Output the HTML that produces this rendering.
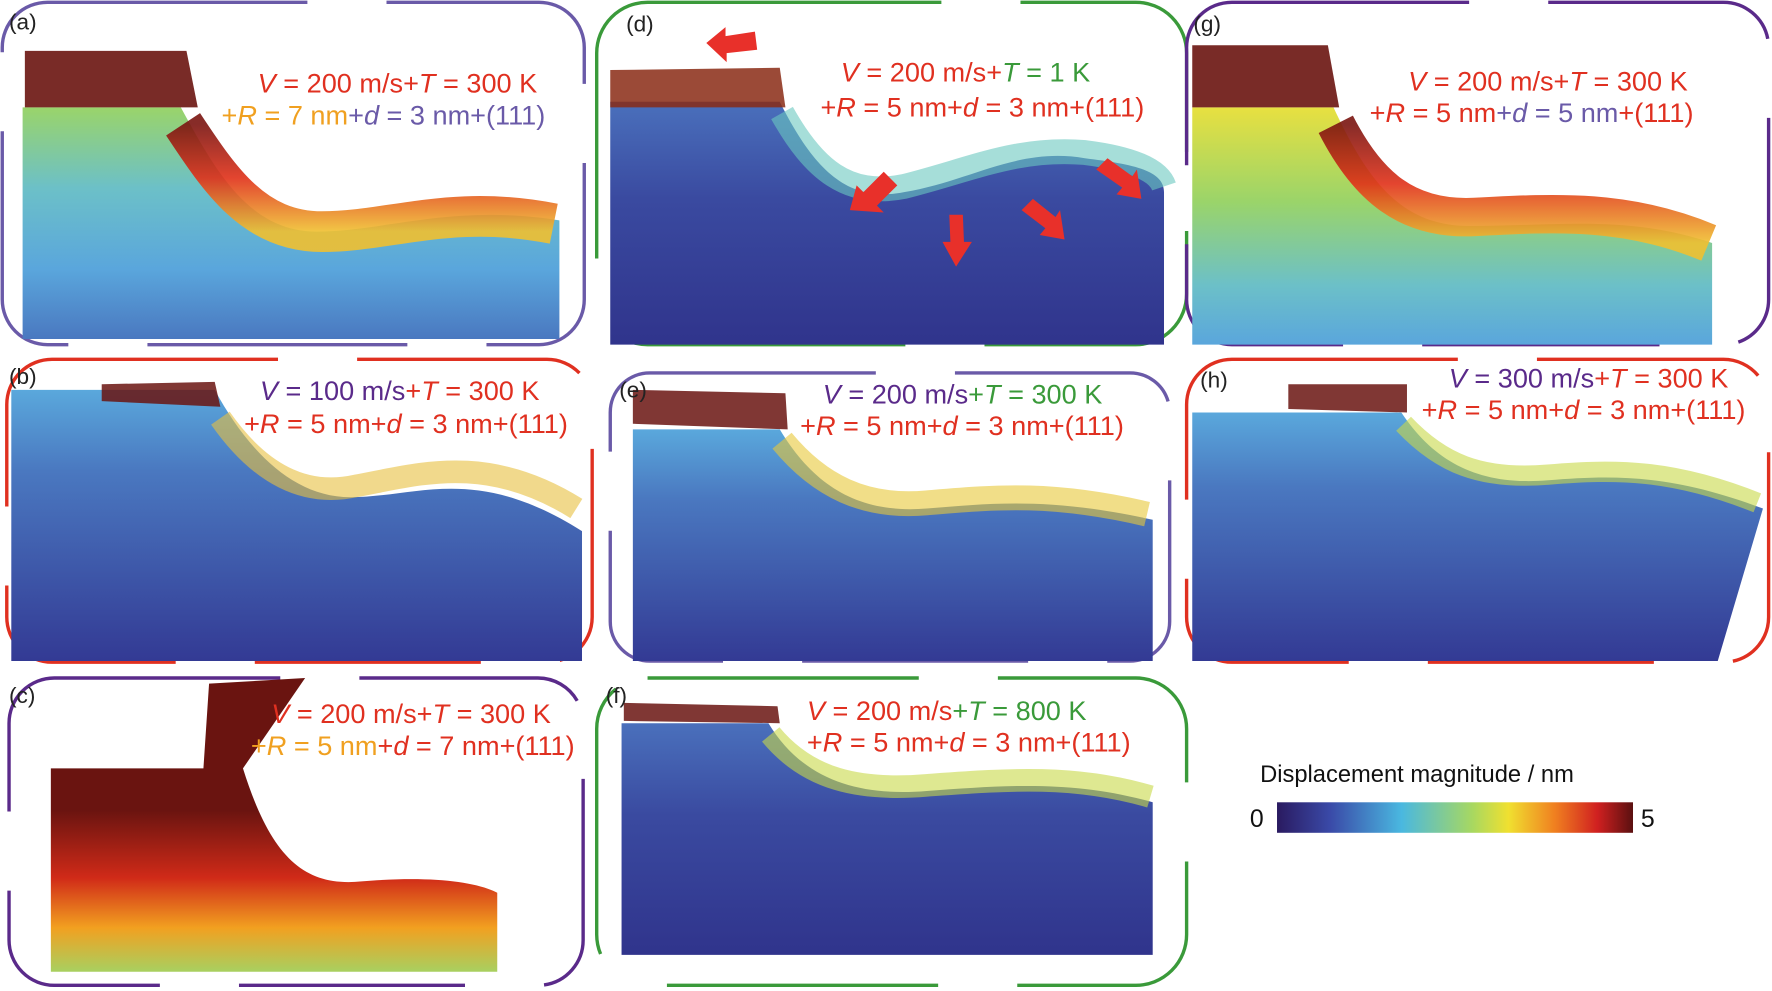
<!DOCTYPE html>
<html><head><meta charset="utf-8"><style>
html,body{margin:0;padding:0;background:#fff;}
svg{display:block;}
text{font-family:"Liberation Sans",sans-serif;}
</style></head><body>
<svg width="1772" height="991" viewBox="0 0 1568 877" preserveAspectRatio="none" xmlns="http://www.w3.org/2000/svg">
<defs>
<linearGradient id="gA" x1="0" y1="0" x2="0" y2="1"><stop offset="0" stop-color="#9ad46a"/><stop offset="0.35" stop-color="#6cc0c8"/><stop offset="0.7" stop-color="#5aa6dc"/><stop offset="1" stop-color="#4a78c0"/></linearGradient>
<linearGradient id="gB" x1="0" y1="0" x2="0" y2="1"><stop offset="0" stop-color="#5aa8dc"/><stop offset="0.3" stop-color="#4a78c0"/><stop offset="1" stop-color="#333a94"/></linearGradient>
<linearGradient id="gC" x1="0" y1="0" x2="0" y2="1"><stop offset="0" stop-color="#6a1410"/><stop offset="0.45" stop-color="#6a1410"/><stop offset="0.68" stop-color="#d02a18"/><stop offset="0.85" stop-color="#f2a020"/><stop offset="1" stop-color="#a8d060"/></linearGradient>
<linearGradient id="gD" x1="0" y1="0" x2="0" y2="1"><stop offset="0" stop-color="#4a70bc"/><stop offset="0.4" stop-color="#3a4aa0"/><stop offset="1" stop-color="#30348c"/></linearGradient>
<linearGradient id="gG" x1="0" y1="0" x2="0" y2="1"><stop offset="0" stop-color="#e8e040"/><stop offset="0.4" stop-color="#9ad46a"/><stop offset="0.75" stop-color="#6cc0c8"/><stop offset="1" stop-color="#5aa6dc"/></linearGradient>
<linearGradient id="cb" x1="0" y1="0" x2="1" y2="0"><stop offset="0" stop-color="#2a1a60"/><stop offset="0.15" stop-color="#3a4aa8"/><stop offset="0.35" stop-color="#4ab8e0"/><stop offset="0.55" stop-color="#a8d860"/><stop offset="0.65" stop-color="#f0e030"/><stop offset="0.78" stop-color="#f08020"/><stop offset="0.9" stop-color="#d02020"/><stop offset="1" stop-color="#5a1010"/></linearGradient>
<linearGradient id="band" x1="0" y1="0" x2="0" y2="1"><stop offset="0" stop-color="#7a1410"/><stop offset="0.5" stop-color="#e03018"/><stop offset="1" stop-color="#f0c030"/></linearGradient>
</defs>

<g fill="none" stroke-width="3">
<rect x="2" y="2" width="515" height="303" rx="40" stroke="#6a5aa8" stroke-dasharray="230,70"/>
<rect x="528" y="2" width="522" height="303" rx="45" stroke="#3a9a3a" stroke-dasharray="260,70"/>
<rect x="1050" y="2" width="515" height="303" rx="40" stroke="#5a2a8a" stroke-dasharray="210,70"/>
<rect x="6" y="318" width="518" height="268" rx="40" stroke="#e03020" stroke-dasharray="200,70"/>
<rect x="540" y="330" width="495" height="255" rx="35" stroke="#6a5aa8" stroke-dasharray="200,70"/>
<rect x="1050" y="318" width="515" height="268" rx="40" stroke="#e03020" stroke-dasharray="200,70"/>
<rect x="8" y="600" width="508" height="272" rx="40" stroke="#5a2a8a" stroke-dasharray="200,70"/>
<rect x="528" y="600" width="522" height="272" rx="45" stroke="#3a9a3a" stroke-dasharray="240,70"/>
</g>

<!-- (a) -->
<path d="M20,95 L160,95 C190,150 220,205 280,205 C340,205 400,180 495,195 L495,300 L20,300 Z" fill="url(#gA)"/>
<path d="M162,110 C195,160 225,205 285,205 C345,205 400,180 490,198" fill="none" stroke="url(#band)" stroke-width="36" opacity="0.9"/>
<path d="M22,45 L165,45 L175,95 L22,95 Z" fill="#6a1410" opacity="0.9"/>
<!-- (b) -->
<path d="M10,345 L190,345 C220,400 260,440 310,440 C370,440 420,410 515,470 L515,585 L10,585 Z" fill="url(#gB)"/>
<path d="M195,370 C230,420 270,440 315,430 C370,420 430,400 510,450" fill="none" stroke="#e8c040" stroke-width="20" opacity="0.6"/>
<path d="M90,340 L190,338 L195,360 L90,355 Z" fill="#6a1410" opacity="0.85"/>
<!-- (c) -->
<path d="M45,680 L180,680 L185,605 L270,600 L215,680 C240,760 270,785 320,780 C380,775 420,780 440,790 L440,860 L45,860 Z" fill="url(#gC)"/>
<!-- (d) -->
<path d="M540,90 L690,90 C720,150 750,180 800,170 C860,160 900,130 960,140 C1000,145 1030,150 1030,170 L1030,305 L540,305 Z" fill="url(#gD)"/>
<path d="M692,100 C720,150 750,175 800,165 C860,150 900,130 960,135 C1000,140 1025,150 1030,165" fill="none" stroke="#6ac8c0" stroke-width="22" opacity="0.6"/>
<path d="M540,62 L690,60 L695,95 L540,95 Z" fill="#8a2a14" opacity="0.85"/>
<!-- (e) -->
<path d="M560,380 L690,380 C720,430 760,455 820,450 C880,445 930,440 1020,460 L1020,585 L560,585 Z" fill="url(#gB)"/>
<path d="M692,390 C725,430 765,450 820,445 C880,440 930,435 1015,455" fill="none" stroke="#e8c838" stroke-width="22" opacity="0.6"/>
<path d="M560,345 L695,348 L697,380 L560,375 Z" fill="#6a1410" opacity="0.85"/>
<!-- (f) -->
<path d="M550,640 L680,640 C710,690 760,705 820,700 C890,695 950,690 1020,710 L1020,845 L550,845 Z" fill="url(#gD)"/>
<path d="M682,650 C715,690 760,700 820,695 C890,690 950,685 1018,705" fill="none" stroke="#c8d848" stroke-width="20" opacity="0.6"/>
<path d="M552,622 L688,625 L690,640 L552,638 Z" fill="#6a1410" opacity="0.85"/>
<!-- (g) -->
<path d="M1055,95 L1180,95 C1210,160 1240,200 1300,200 C1380,200 1440,190 1515,215 L1515,305 L1055,305 Z" fill="url(#gG)"/>
<path d="M1182,110 C1210,165 1245,195 1305,192 C1380,188 1440,185 1512,215" fill="none" stroke="url(#band)" stroke-width="34" opacity="0.9"/>
<path d="M1055,40 L1175,40 L1185,95 L1055,95 Z" fill="#6a1410" opacity="0.9"/>
<!-- (h) -->
<path d="M1055,365 L1240,365 C1270,410 1310,430 1370,425 C1430,420 1480,420 1560,450 L1520,585 L1055,585 Z" fill="url(#gB)"/>
<path d="M1242,375 C1275,410 1310,425 1370,420 C1430,415 1480,415 1555,445" fill="none" stroke="#c8d848" stroke-width="18" opacity="0.6"/>
<path d="M1140,340 L1245,340 L1245,365 L1140,362 Z" fill="#6a1410" opacity="0.85"/>

<g fill="#e8302a">
<path d="M625,38 L642,24 L642,32 L668,28 L670,44 L643,47 L643,55 Z"/>
<path d="M752,186 L758,164 L764,170 L782,152 L794,164 L776,182 L782,188 Z"/>
<path d="M846,236 L834,214 L841,214 L840,190 L852,190 L853,214 L860,214 Z"/>
<path d="M942,212 L920,208 L925,202 L904,186 L914,176 L934,192 L938,186 Z"/>
<path d="M1010,176 L988,172 L993,166 L970,150 L980,140 L1002,156 L1006,150 Z"/>
</g>

<g font-size="20" fill="#222">
<text x="8" y="26">(a)</text><text x="554" y="28">(d)</text><text x="1056" y="28">(g)</text>
<text x="8" y="340">(b)</text><text x="548" y="352">(e)</text><text x="1062" y="343">(h)</text>
<text x="8" y="622">(c)</text><text x="536" y="622">(f)</text>
</g>
<g font-size="24">
<text x="228" y="82" fill="#e03020"><tspan font-style="italic">V</tspan> = 200 m/s+<tspan font-style="italic">T</tspan> = 300 K</text>
<text x="196" y="110"><tspan fill="#f0a020">+<tspan font-style="italic">R</tspan> = 7 nm</tspan><tspan fill="#6a5aa8">+<tspan font-style="italic">d</tspan> = 3 nm+(111)</tspan></text>
<text x="744" y="72" fill="#e03020"><tspan font-style="italic">V</tspan> = 200 m/s+<tspan fill="#3a9a3a"><tspan font-style="italic">T</tspan> = 1 K</tspan></text>
<text x="726" y="103" fill="#e03020">+<tspan font-style="italic">R</tspan> = 5 nm+<tspan font-style="italic">d</tspan> = 3 nm+(111)</text>
<text x="1246" y="80" fill="#e03020"><tspan font-style="italic">V</tspan> = 200 m/s+<tspan font-style="italic">T</tspan> = 300 K</text>
<text x="1212" y="108"><tspan fill="#e03020">+<tspan font-style="italic">R</tspan> = 5 nm</tspan><tspan fill="#6a5aa8">+<tspan font-style="italic">d</tspan> = 5 nm</tspan><tspan fill="#e03020">+(111)</tspan></text>
<text x="230" y="354"><tspan fill="#5a2a8a"><tspan font-style="italic">V</tspan> = 100 m/s</tspan><tspan fill="#e03020">+<tspan font-style="italic">T</tspan> = 300 K</tspan></text>
<text x="216" y="383" fill="#e03020">+<tspan font-style="italic">R</tspan> = 5 nm+<tspan font-style="italic">d</tspan> = 3 nm+(111)</text>
<text x="728" y="357"><tspan fill="#5a2a8a"><tspan font-style="italic">V</tspan> = 200 m/s</tspan><tspan fill="#3a9a3a">+<tspan font-style="italic">T</tspan> = 300 K</tspan></text>
<text x="708" y="385" fill="#e03020">+<tspan font-style="italic">R</tspan> = 5 nm+<tspan font-style="italic">d</tspan> = 3 nm+(111)</text>
<text x="1282" y="343"><tspan fill="#5a2a8a"><tspan font-style="italic">V</tspan> = 300 m/s</tspan><tspan fill="#e03020">+<tspan font-style="italic">T</tspan> = 300 K</tspan></text>
<text x="1258" y="371" fill="#e03020">+<tspan font-style="italic">R</tspan> = 5 nm+<tspan font-style="italic">d</tspan> = 3 nm+(111)</text>
<text x="240" y="640" fill="#e03020"><tspan font-style="italic">V</tspan> = 200 m/s+<tspan font-style="italic">T</tspan> = 300 K</text>
<text x="222" y="668"><tspan fill="#f0a020">+<tspan font-style="italic">R</tspan> = 5 nm</tspan><tspan fill="#e03020">+<tspan font-style="italic">d</tspan> = 7 nm+(111)</tspan></text>
<text x="714" y="637"><tspan fill="#e03020"><tspan font-style="italic">V</tspan> = 200 m/s</tspan><tspan fill="#3a9a3a">+<tspan font-style="italic">T</tspan> = 800 K</tspan></text>
<text x="714" y="665" fill="#e03020">+<tspan font-style="italic">R</tspan> = 5 nm+<tspan font-style="italic">d</tspan> = 3 nm+(111)</text>
</g>

<text x="1115" y="692" font-size="21" fill="#111">Displacement magnitude / nm</text>
<rect x="1130" y="710" width="315" height="27" fill="url(#cb)"/>
<text x="1106" y="732" font-size="22" fill="#111">0</text>
<text x="1452" y="732" font-size="22" fill="#111">5</text>
</svg>
</body></html>
